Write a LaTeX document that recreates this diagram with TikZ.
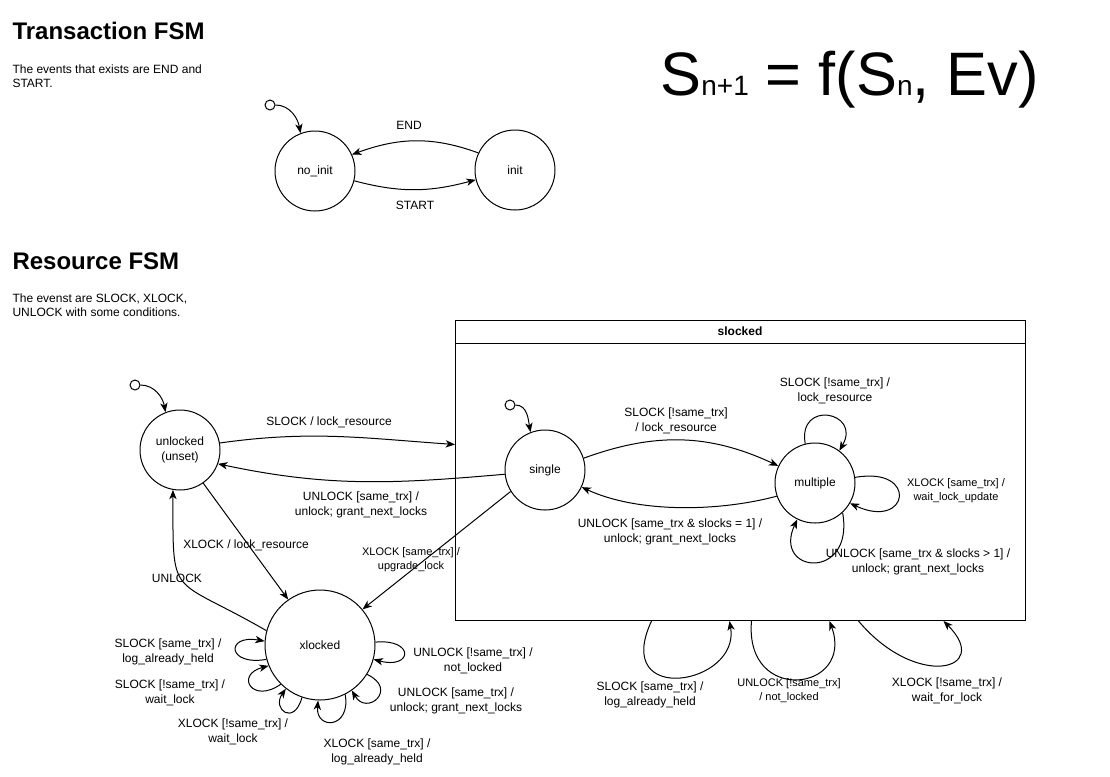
\documentclass[tikz,border=0pt]{standalone}
\usepackage{fontspec}
\setmainfont{Liberation Sans}
\usetikzlibrary{
	arrows.meta,
	positioning,
	calc
}

\begin{document}
\begin{tikzpicture}[
		x=0.75pt, y=0.75pt, line width=0.75pt,
		state/.style={draw, circle, minimum size=60pt, inner sep=0pt, align=center, font=\fontsize{9}{11.25}\selectfont},
		bigstate/.style={state, minimum size=82.5pt},
		initdot/.style={draw, circle, minimum size=7.5pt, inner sep=0pt},
		lbl/.style={align=center, inner sep=0pt, font=\fontsize{9}{11.25}\selectfont},
		smalllbl/.style={align=center, inner sep=0pt, font=\fontsize{8.25}{10.5}\selectfont},
		heading/.style={anchor=base west, inner sep=0pt, font=\fontsize{18}{22}\selectfont\bfseries},
		note/.style={anchor=north west, align=left, inner sep=0pt, font=\fontsize{9}{10.5}\selectfont},
		arrow/.style={-{Stealth[length=7pt,width=5.5pt,inset=2pt]}}
		]
		
		\useasboundingbox (0,0) rectangle (1110,-776);
		
		% Titles
		\node[heading] (trxTitle) at (12,-39) {Transaction FSM};
		\node[note] (trxNote) at (12,-64.5) {The events that exists are END and\\START.};
		\node[anchor=base west, inner sep=0pt, font=\fontsize{46}{46}\selectfont] (formula) at (660,-95)
			{S{\fontsize{21}{21}\selectfont n+1} = f(S{\fontsize{21}{21}\selectfont n}, Ev)};
		
		% Transaction FSM
		\node[initdot] (trxStart) at (270,-105) {};
		\node[state] (noinit) at (315,-171) {no\_init};
		\node[state] (init) at (515,-170) {init};
		
		\draw[arrow] (trxStart.east) to[out=0,in=100] (noinit.111);
		\draw[arrow] (init.155) to[out=160,in=20] (noinit.24);
		\draw[arrow] (noinit.-14) to[out=-15,in=-165] (init.194);
		\node[lbl] (lEnd) at (409,-125) {END};
		\node[lbl] (lStart) at (415,-205) {START};
		
		% Resource FSM
		\node[heading] (resTitle) at (12,-269) {Resource FSM};
		\node[note] (resNote) at (12,-293.5) {The evenst are SLOCK, XLOCK,\\UNLOCK with some conditions.};
		
		\node[initdot] (resStart) at (135,-385) {};
		\node[state] (unlocked) at (180,-450) {unlocked\\(unset)};
		\node[bigstate] (xlocked) at (320,-645) {xlocked};
		
		% slocked super state
		\node[draw, minimum width=427.5pt, minimum height=225pt, inner sep=0pt, anchor=north west] (slocked) at (455,-320) {};
		\node[lbl, font=\fontsize{9}{11.25}\selectfont\bfseries] (slockedTitle) at (740,-331) {slocked};
		\draw ($(slocked.north west)+(0,-23)$) -- ($(slocked.north east)+(0,-23)$);
		\node[initdot] (singleStart) at (510,-405) {};
		\node[state] (single) at (545,-470) {single};
		\node[state] (multiple) at (815,-483) {multiple};
		
		% Arrows resource
		\draw[arrow] (resStart.east) to[out=0,in=100] (unlocked.111);
		\draw[arrow] (singleStart.east) to[out=0,in=100] (single.111);
		\draw[arrow] (unlocked.10) to[out=8,in=176] ($(slocked.west)+(0,26)$);
		\draw[arrow] (single.186) to[out=185,in=-12] (unlocked.-20);
		\draw[arrow] (unlocked.-55) -- (xlocked.125);
		\draw[arrow] (xlocked.165) to[out=150,in=270,looseness=1.7] (unlocked.260);
		\draw[arrow] (single.212) -- (xlocked.40);
		\draw[arrow] (single.17) to[out=20,in=155] (multiple.155);
		\draw[arrow] (multiple.199) to[out=195,in=-25,looseness=0.8] (single.-25);
		
		\node[lbl] (lSlock) at (329,-422) {SLOCK / lock\_resource};
		\node[lbl] (lUnlockSingle) at (361,-505) {UNLOCK [same\_trx] /\\unlock; grant\_next\_locks};
		\node[lbl] (lXlock) at (246,-545) {XLOCK / lock\_resource};
		\node[lbl] (lUnlock) at (177,-578) {UNLOCK};
		\node[smalllbl] (lUpgrade) at (411,-560) {XLOCK [same\_trx] /\\upgrade\_lock};
		\node[lbl] (lToMultiple) at (676,-421) {SLOCK [!same\_trx]\\/ lock\_resource};
		\node[lbl] (lToSingle) at (670,-532) {UNLOCK [same\_trx \& slocks = 1] /\\unlock; grant\_next\_locks};
		
		% Loops multiple
		\draw[arrow] (multiple.104) .. controls +(100:45) and +(60:45) .. (multiple.53);
		\draw[arrow] (multiple.8) .. controls +(10:65) and +(-25:65) .. (multiple.-30);
		\draw[arrow] (multiple.-47) .. controls +(-80:70) and +(-115:60) .. (multiple.-116);
		\node[lbl] (lMultTop) at (835,-391) {SLOCK [!same\_trx] /\\lock\_resource};
		\node[smalllbl] (lMultRight) at (956,-491) {XLOCK [same\_trx] /\\wait\_lock\_update};
		\node[lbl] (lMultBottom) at (918,-562) {UNLOCK [same\_trx \& slocks > 1] /\\unlock; grant\_next\_locks};
		
		% Loops slocked
		\draw[arrow] ($(slocked.south)+(-89,0)$) .. controls +(-115:95) and +(-80:65) .. ($(slocked.south)+(-11,0)$);
		\draw[arrow] ($(slocked.south)+(11,0)$) .. controls +(-95:85) and +(-70:75) .. ($(slocked.south)+(89,0)$);
		\draw[arrow] ($(slocked.south)+(118,0)$) .. controls +(-50:90) and +(-45:70) .. ($(slocked.south)+(203,0)$);
		\node[lbl] (lSlHeld) at (650,-695) {SLOCK [same\_trx] /\\log\_already\_held};
		\node[smalllbl] (lSlNotLocked) at (789,-691) {UNLOCK [!same\_trx]\\/ not\_locked};
		\node[lbl] (lSlWait) at (947,-691) {XLOCK [!same\_trx] /\\wait\_for\_lock};
		
		% Loops xlocked
		\draw[arrow] (xlocked.195) .. controls +(190:40) and +(170:40) .. (xlocked.176);
		\draw[arrow] (xlocked.225) .. controls +(215:35) and +(195:35) .. (xlocked.202);
		\draw[arrow] (xlocked.251) .. controls +(255:30) and +(235:25) .. (xlocked.232);
		\draw[arrow] (xlocked.297.5) .. controls +(-80:35) and +(-95:30) .. (xlocked.268);
		\draw[arrow] (xlocked.-32) .. controls +(-25:35) and +(-60:30) .. (xlocked.-55);
		\draw[arrow] (xlocked.3) .. controls +(5:40) and +(-15:40) .. (xlocked.-15);
		\node[lbl] (lXSHeld) at (168,-652) {SLOCK [same\_trx] /\\log\_already\_held};
		\node[lbl] (lXSWait) at (170,-693) {SLOCK [!same\_trx] /\\wait\_lock};
		\node[lbl] (lXXWait) at (233,-732) {XLOCK [!same\_trx] /\\wait\_lock};
		\node[lbl] (lXXHeld) at (377,-752) {XLOCK [same\_trx] /\\log\_already\_held};
		\node[lbl] (lXUnlock) at (456,-701) {UNLOCK [same\_trx] /\\unlock; grant\_next\_locks};
		\node[lbl] (lXNotLocked) at (473,-661) {UNLOCK [!same\_trx] /\\not\_locked};
		
	\end{tikzpicture}
\end{document}
